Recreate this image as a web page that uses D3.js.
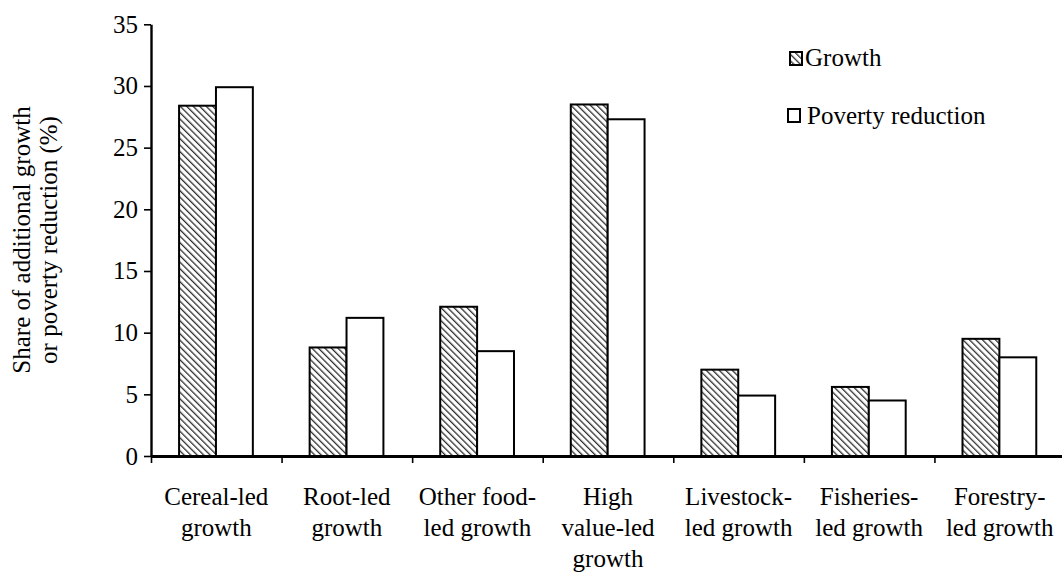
<!DOCTYPE html>
<html>
<head>
<meta charset="utf-8">
<script src="https://d3js.org/d3.v7.min.js"></script>
<style>
  body { margin: 0; background: #fff; }
</style>
</head>
<body>
<script>
// chart data
var categories = ["Cereal-led\ngrowth", "Root-led\ngrowth", "Other food-\nled growth",
                  "High\nvalue-led\ngrowth", "Livestock-\nled growth", "Fisheries-\nled growth",
                  "Forestry-\nled growth"];
var seriesNames = ["Growth", "Poverty reduction"];
var growth  = [28.4, 8.8, 12.1, 28.5, 7.0, 5.6, 9.5];
var poverty = [29.9, 11.2, 8.5, 27.3, 4.9, 4.5, 8.0];
var yTicks  = [0, 5, 10, 15, 20, 25, 30, 35];

var W = 1062, H = 573;
var FS = "25px";
var FONT = "'Liberation Serif'";

var svg = d3.select("body").append("svg")
    .attr("width", W).attr("height", H);

// hatch pattern for the growth bars (lines running top-left to bottom-right)
var defs = svg.append("defs");
var pat = defs.append("pattern")
    .attr("id", "hatch")
    .attr("patternUnits", "userSpaceOnUse")
    .attr("width", 4.6).attr("height", 4.6)
    .attr("patternTransform", "rotate(-45)");
pat.append("rect").attr("width", 4.6).attr("height", 4.6).attr("fill", "#fff");
pat.append("line")
    .attr("x1", 0).attr("y1", 0).attr("x2", 0).attr("y2", 4.6)
    .attr("stroke", "#2e2e2e").attr("stroke-width", 2.6);

var x0 = 151, x1 = 1065, yTop = 24.3, yBase = 456;

var x = d3.scaleBand().domain(categories).range([x0, x1]).padding(0);
var xs = d3.scaleBand().domain(seriesNames)
    .range([x.bandwidth() * 0.215, x.bandwidth() * 0.78]);
var y = d3.scaleLinear().domain([0, 35]).range([yBase, yTop]);

var rows = categories.map(function (c, i) {
  return { cat: c, vals: [
    { s: seriesNames[0], v: growth[i] },
    { s: seriesNames[1], v: poverty[i] } ] };
});

// bars
var g = svg.append("g").selectAll("g").data(rows).join("g")
    .attr("transform", function (d) { return "translate(" + x(d.cat) + ",0)"; });
g.selectAll("rect").data(function (d) { return d.vals; }).join("rect")
    .attr("x", function (d) { return xs(d.s); })
    .attr("width", xs.bandwidth())
    .attr("y", function (d) { return y(d.v); })
    .attr("height", function (d) { return yBase - y(d.v); })
    .attr("fill", function (d) { return d.s === "Growth" ? "url(#hatch)" : "#fff"; })
    .attr("stroke", "#000").attr("stroke-width", 2);

// y axis
var yAxis = svg.append("g")
    .attr("transform", "translate(" + x0 + ",0)")
    .call(d3.axisLeft(y).tickValues(yTicks).tickSize(7).tickSizeOuter(0).tickPadding(6));
yAxis.select(".domain").attr("stroke-width", 2.4);
yAxis.selectAll(".tick line").attr("stroke-width", 1.6);
yAxis.selectAll("text")
    .style("font-family", FONT).style("font-size", FS).style("fill", "#000");

// x axis: ticks at category boundaries
var bounds = d3.scaleLinear().domain([0, categories.length]).range([x0, x1]);
var xAxis = svg.append("g")
    .attr("transform", "translate(0," + yBase + ")")
    .call(d3.axisBottom(bounds).tickValues(d3.range(0, categories.length + 1))
      .tickSize(7).tickSizeOuter(0).tickFormat(""));
xAxis.select(".domain").attr("stroke-width", 3);
xAxis.selectAll(".tick line").attr("stroke-width", 1.6);

// category labels
var lab = svg.append("g").selectAll("text").data(categories).join("text")
    .attr("text-anchor", "middle")
    .style("font-family", FONT).style("font-size", FS)
    .attr("transform", function (d) { return "translate(" + (x(d) + x.bandwidth() / 2) + ",0)"; });
lab.selectAll("tspan").data(function (d) { return d.split("\n"); }).join("tspan")
    .attr("x", 0)
    .attr("y", function (d, i) { return 505 + i * 31; })
    .text(function (d) { return d; });

// y axis title
var yt = svg.append("text")
    .attr("transform", "translate(0,240) rotate(-90)")
    .attr("text-anchor", "middle")
    .style("font-family", FONT).style("font-size", FS);
yt.append("tspan").attr("x", 0).attr("y", 30).text("Share of additional growth");
yt.append("tspan").attr("x", 0).attr("y", 57).text("or poverty reduction (%)");

// legend
var legend = [
  { name: seriesNames[0], bx: 790, by: 52, tx: 805, ty: 66 },
  { name: seriesNames[1], bx: 788, by: 109, tx: 807, ty: 124 }
];
var lg = svg.append("g").selectAll("g").data(legend).join("g");
lg.append("rect")
    .attr("x", function (d) { return d.bx; }).attr("y", function (d) { return d.by; })
    .attr("width", 12).attr("height", 13)
    .attr("fill", function (d) { return d.name === "Growth" ? "url(#hatch)" : "#fff"; })
    .attr("stroke", "#000").attr("stroke-width", 2);
lg.append("text")
    .attr("x", function (d) { return d.tx; }).attr("y", function (d) { return d.ty; })
    .style("font-family", FONT).style("font-size", FS)
    .text(function (d) { return d.name; });
</script>
</body>
</html>
